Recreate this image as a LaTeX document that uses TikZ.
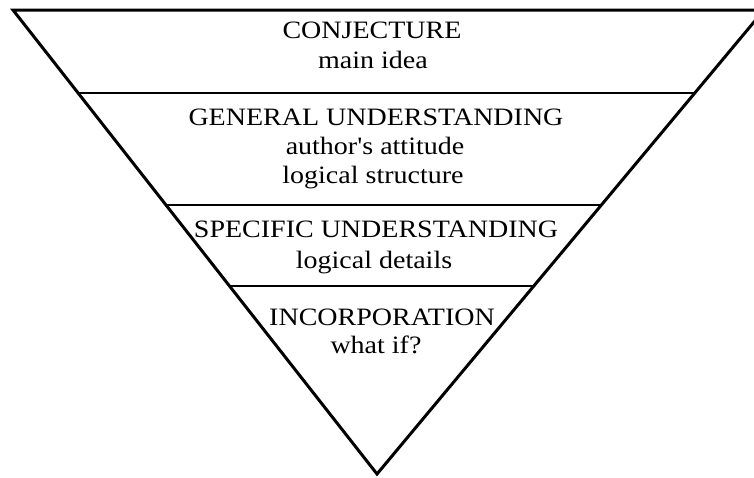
\documentclass[tikz,border=0pt]{standalone}
\usepackage{fontspec}
\setmainfont{Liberation Serif}[Ligatures=TeXOff]
\usetikzlibrary{calc}

\begin{document}
\begin{tikzpicture}[x=1pt,y=-1pt,
    side/.style={line width=3pt,line join=miter},
    layer/.style={line width=2pt},
    lbl/.style={anchor=base,inner sep=0pt,xscale=1.12,font=\fontsize{25}{28}\selectfont}]
      \clip (0,0) rectangle (754,477);
      % funnel outline
      \coordinate (tl) at (13,10);
      \coordinate (tr) at (764,10);
      \coordinate (ap) at (377,474);
      \draw[side] (tl)--(tr)--(ap)--cycle;
      % layer boundaries
      \foreach \t/\n in {0.179/a,0.420/b,0.595/c}
      \draw[layer] ($(tl)!\t!(ap)$) coordinate (l\n) -- ($(tr)!\t!(ap)$) coordinate (r\n);
      % labels
      \node[lbl] (conj) at (372,38) {CONJECTURE};
      \node[lbl] (conjsub) at (373,68) {main idea};
      \node[lbl] (gen) at (376,125) {GENERAL UNDERSTANDING};
      \node[lbl] (gena) at (375,154) {author's attitude};
      \node[lbl] (genb) at (373,183) {logical structure};
      \node[lbl] (spec) at (376,237) {SPECIFIC UNDERSTANDING};
      \node[lbl] (specsub) at (374,268) {logical details};
      \node[lbl] (inc) at (382,325) {INCORPORATION};
      \node[lbl] (incsub) at (376,353) {what if?};
    \end{tikzpicture}
\end{document}
